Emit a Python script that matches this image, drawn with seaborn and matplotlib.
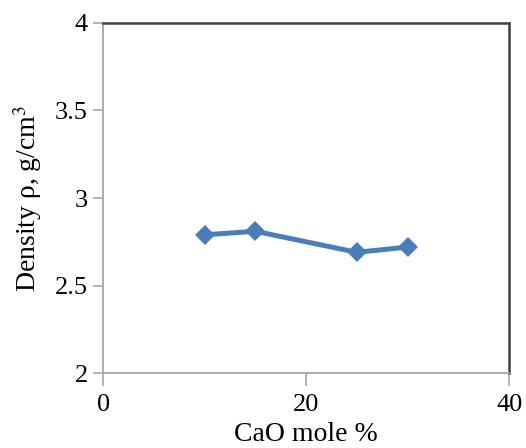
import numpy as np
import pandas as pd
import matplotlib
matplotlib.use('Agg')
import matplotlib.pyplot as plt
import seaborn as sns

sns.set_style('ticks')
plt.rcParams['font.family'] = ['Liberation Serif', 'DejaVu Serif']
plt.rcParams['mathtext.fontset'] = 'stix'
plt.rcParams['text.color'] = 'black'
plt.rcParams['axes.labelcolor'] = 'black'
plt.rcParams['xtick.labelcolor'] = 'black'
plt.rcParams['ytick.labelcolor'] = 'black'

cao = [10, 15, 25, 30]
density = [2.79, 2.81, 2.69, 2.72]

df = pd.DataFrame({'CaO': cao, 'Density': density})

fig = plt.figure(figsize=(5.26, 4.48), dpi=100)
ax = fig.add_axes([0.196, 0.167, 0.772, 0.782])

sns.lineplot(data=df, x='CaO', y='Density', ax=ax, color='#4a7ebb',
             linewidth=3.6, marker='D', markersize=10, markeredgewidth=0)

ax.set_xlim(0, 40)
ax.set_ylim(2, 4)
ax.set_xticks([0, 20, 40])
ax.set_yticks([2, 2.5, 3, 3.5, 4])
ax.set_yticklabels(['2', '2.5', '3', '3.5', '4'])
ax.tick_params(axis='both', direction='out', width=1.2,
               color='#a6a6a6', labelsize=19)
ax.tick_params(axis='y', length=7, pad=4)
ax.tick_params(axis='x', length=9, pad=6)

for s in ['left', 'bottom']:
    ax.spines[s].set_color('#a6a6a6')
    ax.spines[s].set_linewidth(1.3)
for s in ['top', 'right']:
    ax.spines[s].set_color('#404040')
    ax.spines[s].set_linewidth(1.8)

ax.set_xlabel('CaO mole %', fontsize=20, labelpad=4)
ax.set_ylabel('Density ρ, g/cm$^3$', fontsize=20, labelpad=8)

fig.savefig('out.png', dpi=100)
